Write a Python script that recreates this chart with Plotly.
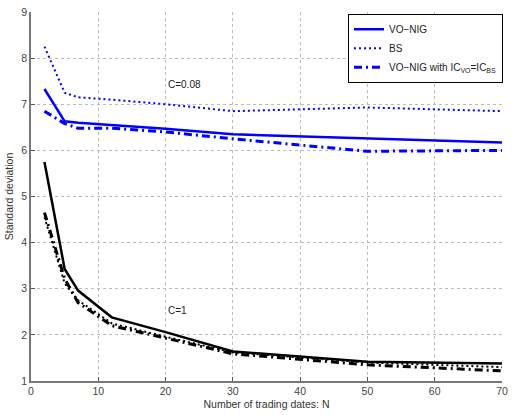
import plotly.graph_objects as go

# Number of trading dates
N = [2, 5, 7, 12, 20, 30, 50, 70]

# C = 0.08 (blue)
vonig_c008 = [7.33, 6.63, 6.60, 6.55, 6.47, 6.35, 6.26, 6.17]
bs_c008 = [8.25, 7.25, 7.15, 7.10, 7.00, 6.85, 6.93, 6.85]
vonig_ic_c008 = [6.85, 6.58, 6.48, 6.48, 6.40, 6.25, 5.98, 6.00]

# C = 1 (black)
vonig_c1 = [5.75, 3.43, 2.96, 2.38, 2.06, 1.64, 1.42, 1.38]
bs_c1 = [4.55, 3.12, 2.75, 2.25, 1.96, 1.62, 1.40, 1.30]
vonig_ic_c1 = [4.65, 3.22, 2.70, 2.20, 1.93, 1.59, 1.35, 1.22]

BLUE = "#0000ff"
BLACK = "#000000"

fig = go.Figure()

fig.add_trace(go.Scatter(x=N, y=vonig_c008, mode="lines", name="VO\u2212NIG",
                         line=dict(color=BLUE, width=2.5)))
fig.add_trace(go.Scatter(x=N, y=bs_c008, mode="lines", name="BS",
                         line=dict(color=BLUE, width=2, dash="2px,3px")))
fig.add_trace(go.Scatter(x=N, y=vonig_ic_c008, mode="lines",
                         name="VO\u2212NIG with IC<sub>VO</sub>=IC<sub>BS</sub>",
                         line=dict(color=BLUE, width=3, dash="8px,4px,2px,4px")))

fig.add_trace(go.Scatter(x=N, y=vonig_c1, mode="lines", showlegend=False,
                         line=dict(color=BLACK, width=2.5)))
fig.add_trace(go.Scatter(x=N, y=bs_c1, mode="lines", showlegend=False,
                         line=dict(color=BLACK, width=2, dash="2px,3px")))
fig.add_trace(go.Scatter(x=N, y=vonig_ic_c1, mode="lines", showlegend=False,
                         line=dict(color=BLACK, width=3, dash="8px,4px,2px,4px")))

fig.add_annotation(x=22.8, y=7.43, text="C=0.08", showarrow=False,
                   font=dict(size=10, color="#222"))
fig.add_annotation(x=21.7, y=2.53, text="C=1", showarrow=False,
                   font=dict(size=10, color="#222"))

axis_common = dict(
    showgrid=True, gridcolor="#bbbbbb", griddash="dot", gridwidth=1,
    ticks="inside", ticklen=4, tickcolor="#555", zeroline=False,
    showline=True, linecolor="#777", linewidth=1.5, mirror=False,
    tickfont=dict(size=10.5, color="#444"),
)

fig.update_xaxes(range=[0, 70], dtick=10,
                 title=dict(text="Number of trading dates: N", standoff=4,
                            font=dict(size=10.5, color="#333")),
                 **axis_common)
fig.update_yaxes(range=[1, 9], dtick=1,
                 title=dict(text="Standard deviation", standoff=6,
                            font=dict(size=10.5, color="#333")),
                 **axis_common)

fig.update_layout(
    width=514, height=415,
    margin=dict(l=31, r=6, t=11, b=28),
    paper_bgcolor="white", plot_bgcolor="white",
    font=dict(family="Liberation Sans, Arial, sans-serif", size=10, color="#222"),
    legend=dict(x=0.673, y=0.995, xanchor="left", yanchor="top",
                bgcolor="white", bordercolor="black", borderwidth=1,
                font=dict(size=10), tracegroupgap=0, itemwidth=30),
)

fig.write_html("out.html")
